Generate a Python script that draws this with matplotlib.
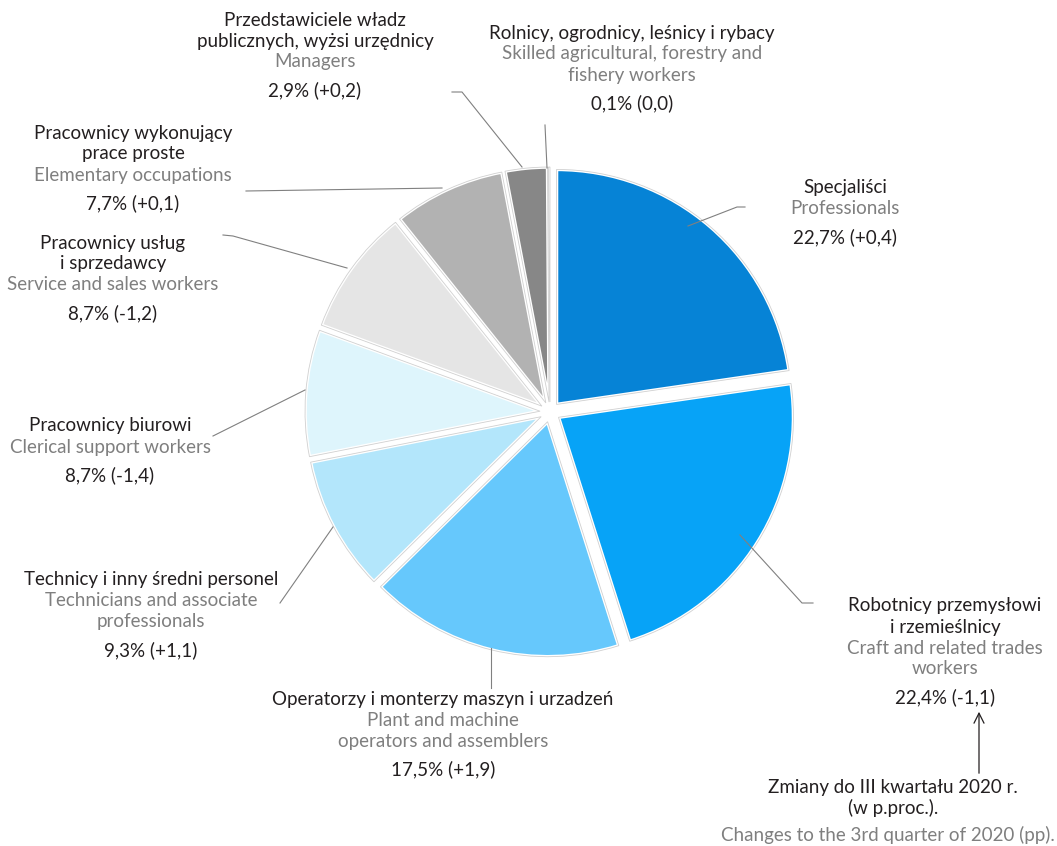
import matplotlib
matplotlib.use("Agg")
import matplotlib.pyplot as plt

plt.rcParams['font.family'] = ['Lato', 'DejaVu Sans']

# share of employed by occupation (%) and change vs Q3 2020 (pp)
names_pl = ["Specjaliści", "Robotnicy przemysłowi\ni rzemieślnicy",
            "Operatorzy i monterzy maszyn i urzadzeń", "Technicy i inny średni personel",
            "Pracownicy biurowi", "Pracownicy usług\ni sprzedawcy",
            "Pracownicy wykonujący\nprace proste", "Przedstawiciele władz\npublicznych, wyżsi urzędnicy",
            "Rolnicy, ogrodnicy, leśnicy i rybacy"]
names_en = ["Professionals", "Craft and related trades\nworkers",
            "Plant and machine\noperators and assemblers", "Technicians and associate\nprofessionals",
            "Clerical support workers", "Service and sales workers",
            "Elementary occupations", "Managers",
            "Skilled agricultural, forestry and\nfishery workers"]
shares = [22.7, 22.4, 17.5, 9.3, 8.7, 8.7, 7.7, 2.9, 0.1]
changes = [0.4, -1.1, 1.9, 1.1, -1.4, -1.2, 0.1, 0.2, 0.0]
colors = ["#0683d6", "#07a3f7", "#66c8fc", "#b3e6fb", "#def5fc",
          "#e5e5e5", "#b2b2b2", "#878787", "#1a1a1a"]

DARK = "#231f20"
GREY = "#7f7f7f"
LINE = "#808080"

# label anchor (x centre, centre y of first line) in pixels
label_pos = [(845, 188), (945, 606), (443, 699), (151, 580), (110, 426),
             (113, 243), (133, 133), (315, 20), (632, 33)]
# leader lines
leaders = [[(745, 207), (737, 207), (688, 226)],
           [(813, 603), (802, 603), (740, 535)],
           [(491, 688), (491, 648)],
           [(280, 603), (333, 527)],
           [(213, 436), (305, 390)],
           [(223, 235), (233, 236), (347, 268)],
           [(246, 191), (442, 188)],
           [(452, 92), (462, 92), (522, 167)],
           [(545, 125), (547, 168)]]


def fmt(v):
    return ("%.1f" % v).replace(".", ",")


def fmt_change(v):
    if v == 0:
        return "0,0"
    return ("+" if v > 0 else "") + fmt(v)


fig = plt.figure(figsize=(10.57, 8.46), dpi=100)
ax = fig.add_axes([0, 0, 1, 1])

pie_kw = dict(center=(550, 412), radius=235, startangle=-90, counterclock=True,
              explode=[10] * len(shares))
ax.pie(shares, colors=colors, wedgeprops=dict(edgecolor="white", linewidth=2.5),
       **pie_kw)
# thin grey outline inside the white gap
ax.pie(shares, colors=["none"] * len(shares),
       wedgeprops=dict(edgecolor="#d0d0d0", linewidth=0.6, fill=False), **pie_kw)

ax.set_xlim(0, 1057)
ax.set_ylim(846, 0)
ax.set_aspect("equal")
ax.axis("off")

fs = 13.5
step = 21
for i in range(len(shares)):
    x, y = label_pos[i]
    lines = [(t, DARK) for t in names_pl[i].split("\n")]
    lines += [(t, GREY) for t in names_en[i].split("\n")]
    for t, c in lines:
        ax.text(x, y, t, ha="center", va="center", fontsize=fs, color=c)
        y += step
    y += 7
    ax.text(x, y, "%s%% (%s)" % (fmt(shares[i]), fmt_change(changes[i])),
            ha="center", va="center", fontsize=fs, color=DARK)
    xs = [p[0] for p in leaders[i]]
    ys = [p[1] for p in leaders[i]]
    ax.plot(xs, ys, color=LINE, lw=0.8)

# note about changes
ax.annotate("", xy=(979, 709), xytext=(979, 776),
            arrowprops=dict(arrowstyle="->", color=DARK, lw=0.9,
                            mutation_scale=18))
ax.text(893, 787, "Zmiany do III kwartału 2020 r.", ha="center", va="center",
        fontsize=fs, color=DARK)
ax.text(893, 808, "(w p.proc.).", ha="center", va="center", fontsize=fs,
        color=DARK)
ax.text(1055, 835, "Changes to the 3rd quarter of 2020 (pp).", ha="right",
        va="center", fontsize=fs, color=GREY)

fig.savefig("out.png", dpi=100, facecolor="white")
